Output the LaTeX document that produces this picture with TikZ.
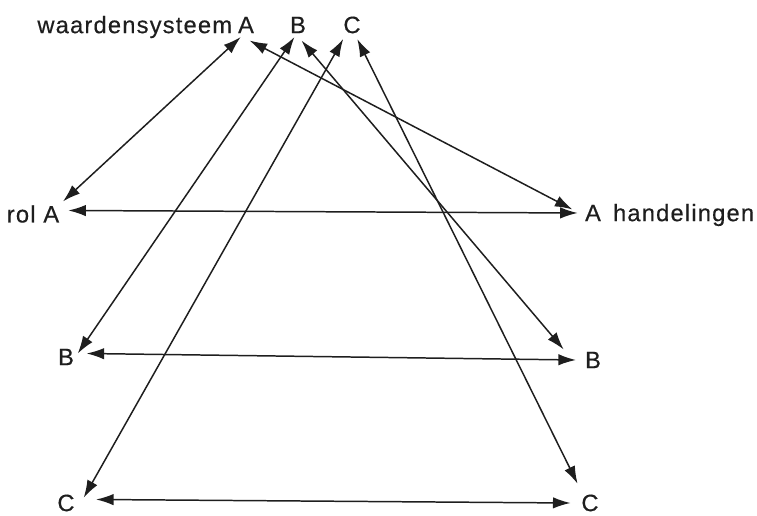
\documentclass[tikz,border=0pt]{standalone}
\usepackage{fontspec}
\setmainfont{Liberation Sans}[LetterSpace=5, FakeBold=0.4]
\usetikzlibrary{arrows.meta,positioning}
\definecolor{ink}{HTML}{1E1E1E}
\tikzset{
  lbl/.style={inner sep=2pt, font=\fontsize{13.5}{15}\selectfont, text=ink},
  lnk/.style={draw=ink, line width=0.85pt, {Latex[length=10pt,width=6.5pt]}-{Latex[length=10pt,width=6.5pt]}},
}

\begin{document}
\begin{tikzpicture}[x=0.02cm, y=-0.02cm]
\useasboundingbox (0,0) rectangle (757,516);

% ---------------- labels ----------------
\node[lbl] (wA) at (246,25) {A};
\node[lbl, base left=-1pt of wA] (wsys) {waardensysteem};
\node[lbl] (wB) at (298,25) {B};
\node[lbl] (wC) at (352,25) {C};

\node[lbl] (lA) at (33,214) {rol A};
\node[lbl] (lB) at (66,357) {B};
\node[lbl] (lC) at (66,503) {C};

\node[lbl] (rA) at (593,213) {A};
\node[lbl, base right=2.5pt of rA] (hand) {handelingen};
\node[lbl] (rB) at (593,360) {B};
\node[lbl] (rC) at (590,503) {C};

% ---------------- from the value systems down ----------------
\draw[lnk] ([xshift=-3pt]wA.south) -- (lA.north east);
\draw[lnk] ([xshift=2pt,yshift=-2pt]wA.south) -- ([xshift=-5pt,yshift=2pt]rA.west);
\draw[lnk] ([xshift=-2pt]wB.south) -- ([yshift=2pt]lB.east);
\draw[lnk] ([xshift=2pt,yshift=-2pt]wB.south) -- ([xshift=-10pt,yshift=6pt]rB.west);
\draw[lnk] ([xshift=-5pt,yshift=-1pt]wC.south) -- ([xshift=3pt,yshift=3pt]lC.east);
\draw[lnk] ([xshift=3pt,yshift=-1pt]wC.south) -- ([yshift=4pt]rC.north west);

% ---------------- roles and actions ----------------
\draw[lnk] ([xshift=3pt,yshift=2pt]lA.east) -- ([xshift=-2pt]rA.west);
\draw[lnk] ([xshift=5pt,yshift=2pt]lB.east) -- ([xshift=-3pt]rB.west);
\draw[lnk] ([xshift=10pt,yshift=2pt]lC.east) -- ([xshift=-4pt]rC.west);
\end{tikzpicture}
\end{document}
